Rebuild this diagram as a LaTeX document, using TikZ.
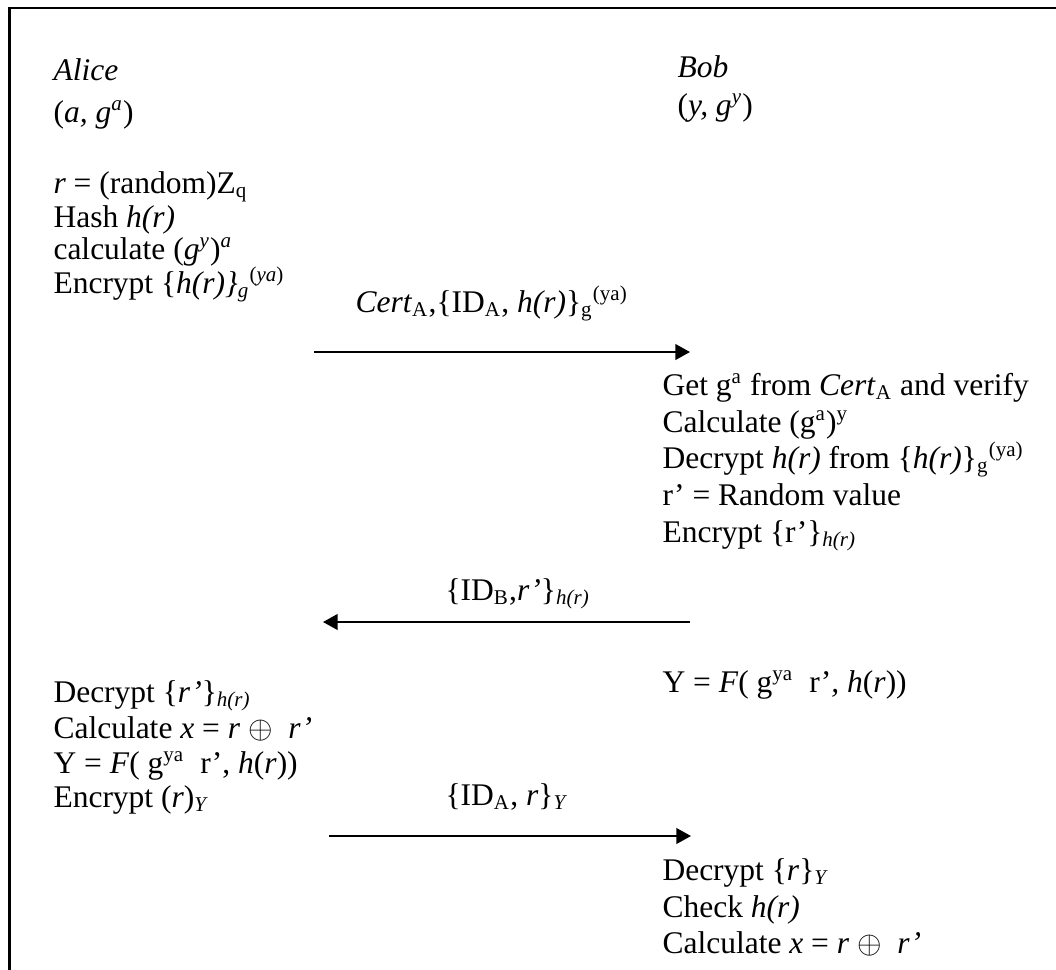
\documentclass[tikz,border=0pt]{standalone}
\usepackage{fontspec}
\setmainfont{Liberation Serif}
\usetikzlibrary{arrows.meta}

\begin{document}
\begin{tikzpicture}[x=0.381pt, y=-0.381pt,
    statement/.style ={anchor=base west, inner sep=0pt, font=\fontsize{12}{13.7}\selectfont},
    message/.style ={line width=0.75pt, -{Triangle[length=5.6pt, width=6pt]}}]
   \useasboundingbox (0,0) rectangle (1056,969);
   % frame, open at the bottom and on the right
   \draw[line width=1.1pt] (9.5,975) |- (1060,8);

   % Alice, first step
   \node[statement] (alice)    at (53,80)  {\textit{Alice}};
   \node[statement] (alicekey) at (53,122) {(\textit{a, g}\textsuperscript{\textit{a}})};
   \node[statement] (arand)    at (53,193) {\textit{r} = (random)Z\textsubscript{q}};
   \node[statement] (ahash)    at (53,227) {Hash \textit{h(r)}};
   \node[statement] (acalc)    at (53,259) {calculate (\textit{g}\textsuperscript{\textit{y}})\textsuperscript{\textit{a}}};
   \node[statement] (aenc)     at (53,293) {Encrypt \{\textit{h(r)\}}\textsubscript{\textit{g}}\textsuperscript{(\textit{ya})}};

   % Bob
   \node[statement] (bob)    at (677,77)  {\textit{Bob}};
   \node[statement] (bobkey) at (677,115) {(\textit{y, g}\textsuperscript{\textit{y}})};

   % message 1
   \node[statement] (msgone) at (355,312) {\textit{Cert}\textsubscript{A},\{ID\textsubscript{A}, \textit{h(r)}\}\textsubscript{g}\textsuperscript{(ya)}};
   \coordinate (m1s) at (314,352);
   \coordinate (m1e) at (690,352);
   \draw[message] (m1s) to (m1e);

   % Bob, first step
   \node[statement] (bget)  at (662,395) {Get g\textsuperscript{a} from \textit{Cert}\textsubscript{A} and verify};
   \node[statement] (bcalc) at (662,432) {Calculate (g\textsuperscript{a})\textsuperscript{y}};
   \node[statement] (bdec)  at (662,468) {Decrypt \textit{h(r)} from \{\textit{h(r)}\}\textsubscript{g}\textsuperscript{(ya)}};
   \node[statement] (brand) at (662,505) {r’ = Random value};
   \node[statement] (benc)  at (662,542) {Encrypt \{r’\}\textsubscript{\textit{h(r)}}};

   % message 2
   \node[statement] (msgtwo) at (445,600) {\{ID\textsubscript{B},\textit{r’}\}\textsubscript{\textit{h(r)}}};
   \coordinate (m2s) at (690,622);
   \coordinate (m2e) at (323,622);
   \draw[message] (m2s) to (m2e);

   \node[statement] (bkey) at (662,692) {Y = \textit{F}( g\textsuperscript{ya}\ \ r’\textit{,} \textit{h}(\textit{r}))};

   % Alice, second step
   \node[statement] (adec)  at (53,702) {Decrypt \{\textit{r’}\}\textsubscript{\textit{h(r)}}};
   \node[statement] (axor)  at (53,738) {Calculate \textit{x} = \textit{r} {\large$\oplus$}\ \ \textit{r’}};
   \node[statement] (akey)  at (53,773) {Y = \textit{F}( g\textsuperscript{ya}\ \ r’, \textit{h}(\textit{r}))};
   \node[statement] (aenc2) at (53,807) {Encrypt (\textit{r})\textsubscript{\textit{Y}}};

   % message 3
   \node[statement] (msgthree) at (445,805) {\{ID\textsubscript{A}, \textit{r}\}\textsubscript{\textit{Y}}};
   \coordinate (m3s) at (329,836);
   \coordinate (m3e) at (691,836);
   \draw[message] (m3s) to (m3e);

   % Bob, second step
   \node[statement] (bdec2)  at (662,880) {Decrypt \{\textit{r}\}\textsubscript{\textit{Y}}};
   \node[statement] (bcheck) at (662,917) {Check \textit{h(r)}};
   \node[statement] (bxor)   at (662,953) {Calculate \textit{x} = \textit{r} {\large$\oplus$}\ \ \textit{r’}};
 \end{tikzpicture}
\end{document}
